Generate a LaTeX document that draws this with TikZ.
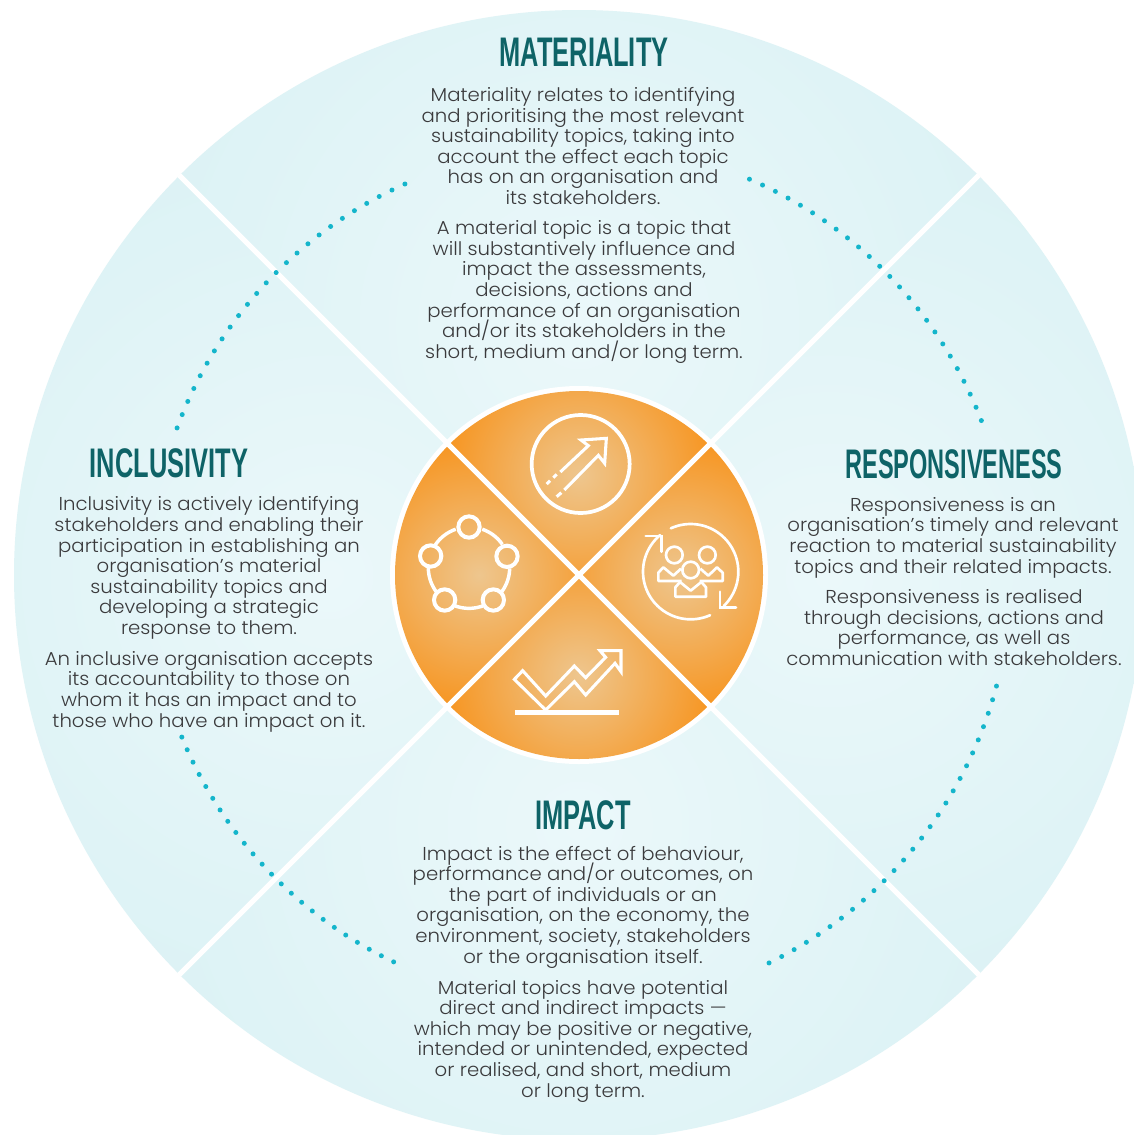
\documentclass[tikz,border=0pt]{standalone}
\usepackage{fontspec}
\setmainfont{Poppins}
\newfontfamily\bodyfont[FakeStretch=1.055]{Poppins Light}
\newfontfamily\titlefont[FakeStretch=0.615]{Liberation Sans Bold}
\newfontfamily\titlefontN[FakeStretch=0.57]{Liberation Sans Bold}
\lineskiplimit=-100pt\relax
\definecolor{blueIn}{HTML}{EBF8FA}
\definecolor{blueOut}{HTML}{DCF2F5}
\definecolor{orIn}{HTML}{EEC68E}
\definecolor{orOut}{HTML}{F7941E}
\definecolor{dotc}{HTML}{14B5CB}
\definecolor{titlec}{HTML}{0E6367}
\definecolor{bodyc}{HTML}{3A3A3C}
\pgfdeclareradialshading{blueW}{\pgfpointorigin}{color(0bp)=(blueIn); color(11bp)=(blueOut); color(50bp)=(blueOut)}
\pgfdeclareradialshading{orW}{\pgfpointorigin}{color(0bp)=(orIn); color(11.7bp)=(orOut); color(50bp)=(orOut)}
\tikzset{
  title/.style={font=\titlefont\fontsize{31}{31}\selectfont,text=titlec,inner sep=0pt,anchor=center},
  para/.style={font=\bodyfont\fontsize{14}{15.45}\selectfont,text=bodyc,align=center,inner sep=0pt,anchor=center},
  icon/.style={draw=white,line width=2.3pt,line join=miter,fill=none},
}
\newcommand{\dotarc}[4]{%
  \pgfmathsetmacro{\stp}{(#2-#1)/(#3-1)}%
  \foreach \k in {1,...,#3}{%
    \fill[dotc] ({579+#4*cos(#1+(\k-1)*\stp)},{575-#4*sin(#1+(\k-1)*\stp)}) circle (2.5);
  }%
}
\begin{document}
\begin{tikzpicture}[x=0.75pt,y=-0.75pt]
\useasboundingbox (0,0) rectangle (1134,1135);
\clip (0,0) rectangle (1134,1135);
\fill[white] (0,0) rectangle (1134,1135);
% outer blue wedges
\foreach \dx/\dy in {0/-1,1/0,0/1,-1/0}{
  \begin{scope}
    \clip (579,575) circle (565);
    \clip (579,575) -- ({579+700*(\dx-\dy)},{575+700*(\dy+\dx)}) -- ({579+700*(\dx+\dy)},{575+700*(\dy-\dx)}) -- cycle;
    \shade[shading=blueW] ({579+250*\dx},{575+250*\dy}) circle (1000);
  \end{scope}
}
% dividing lines
\draw[white,line width=3.8pt] (179,175) -- (979,975);
\draw[white,line width=3.8pt] (979,175) -- (179,975);
% dotted arcs
\dotarc{114.0}{159.9}{25}{428}
\dotarc{66.7}{21.0}{25}{431}
\dotarc{-14.9}{-63.9}{27}{432}
\dotarc{202.2}{244.4}{24}{429}
% centre disc
\fill[white] (579,575) circle (189);
\foreach \dx/\dy in {0/-1,1/0,0/1,-1/0}{
  \begin{scope}
    \clip (579,575) circle (184);
    \clip (579,575) -- ({579+700*(\dx-\dy)},{575+700*(\dy+\dx)}) -- ({579+700*(\dx+\dy)},{575+700*(\dy-\dx)}) -- cycle;
    \shade[shading=orW] ({579+100*\dx},{575+100*\dy}) circle (300);
  \end{scope}
}
\draw[white,line width=3.8pt] (445,441) -- (713,709);
\draw[white,line width=3.8pt] (713,441) -- (445,709);
% icons (coordinates at 3x)
\begin{scope}[shift={(380,380)},x=0.25pt,y=-0.25pt]
  % arrow in circle
  \draw[icon,line width=2.8pt] (602,252) circle (147);
  \draw[icon] (541,276) -- (625,197) -- (603,180) -- (679,175) -- (674,250) -- (655,226) -- (553,330);
  \draw[icon] (500,312) -- (510,302);
  \draw[icon] (520,293) -- (530,283);
  \draw[icon] (530,350) -- (544,338);
  % network
  \foreach \cx/\cy in {267/441,381/529,340/660,194/660,152/528}{
    \draw[icon,line width=3pt] (\cx,\cy) circle (32);
  }
  \foreach \a/\b in {71/35,-1/-36,-70/-110,-144/-180,146/109}{
    \draw[icon,line width=2.6pt] plot[domain=\a:\b,samples=16,smooth] ({267+122*cos(\x)},{563-122*sin(\x)});
  }
  % people cycle
  \draw[icon,line width=2pt,line cap=round] plot[domain=114.5:-46,samples=40,smooth] ({932+143*cos(\x)},{575-143*sin(\x)});
  \draw[icon,line width=2pt,line cap=round] plot[domain=-66:-230,samples=40,smooth] ({932+143*cos(\x)},{575-143*sin(\x)});
  \draw[icon,line width=2pt,line cap=round] (1020,635) -- (1020,682) -- (1068,682);
  \draw[icon,line width=2pt,line cap=round] (797,468) -- (845,468) -- (845,515);
  \foreach \cx/\cy in {883/525,982/525,932/570}{
    \draw[icon,line width=2pt] (\cx,\cy) circle (25);
  }
  \draw[icon,line width=2pt,line join=round] (905,603) -- (835,603) -- (835,578) -- (850,562) -- (880,587) -- (903,566);
  \draw[icon,line width=2pt,line join=round] (959,603) -- (1028,603) -- (1028,578) -- (1011,562) -- (985,587) -- (961,566);
  \draw[icon,line width=2pt,line join=round] (886,650) -- (886,622) -- (900,606) -- (932,632) -- (964,606) -- (978,622) -- (978,650) -- cycle;
  % chart
  \draw[icon] (497,990) -- (403,898) -- (428,872) -- (497,948) -- (583,858) -- (617,893) -- (677,832) -- (660,812) -- (723,812) -- (723,875) -- (705,850) -- (617,945) -- (583,905) -- cycle;
  \draw[white,line width=3.6pt] (405,997) -- (717,997);
\end{scope}
% texts
\node[title] (tMat) at (584,52) {MATERIALITY};
\node[para] (m1) at (583,146) {Materiality relates to identifying\\and prioritising the most relevant\\sustainability topics, taking into\\account the effect each topic\\has on an organisation and\\its stakeholders.};
\node[para] (m2) at (584,292) {A material topic is a topic that\\will substantively influence and\\impact the assessments,\\decisions, actions and\\performance of an organisation\\and/or its stakeholders in the\\short, medium and/or long term.};
\node[title] (tInc) at (169,463) {INCLUSIVITY};
\node[para] (i1) at (209,568) {Inclusivity is actively identifying\\stakeholders and enabling their\\participation in establishing an\\organisation’s material\\sustainability topics and\\developing a strategic\\response to them.};
\node[para] (i2) at (209,691.5) {An inclusive organisation accepts\\its accountability to those on\\whom it has an impact and to\\those who have an impact on it.};
\node[title,font=\titlefontN\fontsize{31}{31}\selectfont] (tRes) at (954,464) {RESPONSIVENESS};
\node[para] (r1) at (953,537.5) {Responsiveness is an\\organisation’s timely and relevant\\reaction to material sustainability\\topics and their related impacts.};
\node[para] (r2) at (954,627.5) {Responsiveness is realised\\through decisions, actions and\\performance, as well as\\communication with stakeholders.};
\node[title] (tImp) at (583,815) {IMPACT};
\node[para] (b1) at (583,907) {Impact is the effect of behaviour,\\performance and/or outcomes, on\\the part of individuals or an\\organisation, on the economy, the\\environment, society, stakeholders\\or the organisation itself.};
\node[para] (b2) at (583,1041) {Material topics have potential\\direct and indirect impacts —\\which may be positive or negative,\\intended or unintended, expected\\or realised, and short, medium\\or long term.};
\end{tikzpicture}
\end{document}
